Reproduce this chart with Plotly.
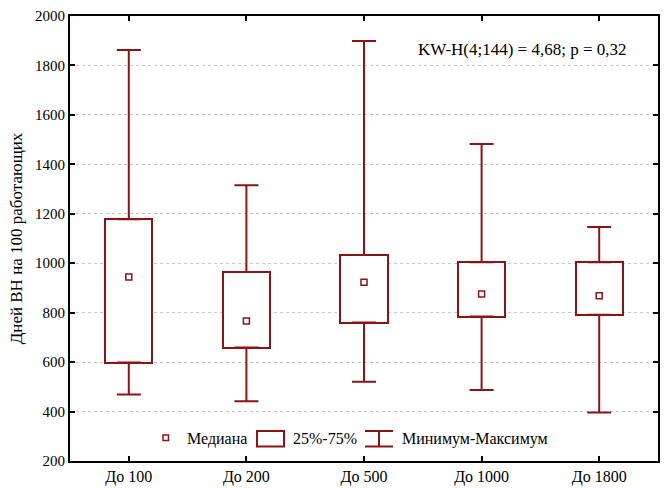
import plotly.graph_objects as go

# Sick-leave days per 100 workers, by enterprise size group
categories = ["До 100", "До 200", "До 500", "До 1000", "До 1800"]
minimum = [469, 442, 521, 487, 396]
q1 = [598, 659, 760, 784, 792]
median = [944, 766, 923, 876, 868]
q3 = [1178, 965, 1033, 1004, 1004]
maximum = [1862, 1315, 1899, 1482, 1147]

y_ticks = list(range(200, 2001, 200))
stat_text = "KW-H(4;144) = 4,68; p = 0,32"
legend_labels = ["Медиана", "25%-75%", "Минимум-Максимум"]

RED = "#8C1414"
FONT = "Liberation Serif, Times New Roman, serif"
xs = list(range(len(categories)))

fig = go.Figure()

# 25%-75% boxes
fig.add_trace(go.Bar(
    x=xs, base=q1, y=[b - a for a, b in zip(q1, q3)], width=0.4,
    marker=dict(color="white", line=dict(color=RED, width=2)),
    showlegend=False, hoverinfo="skip",
))

# upper whiskers: q3 -> max
fig.add_trace(go.Scatter(
    x=xs, y=q3, mode="markers",
    marker=dict(size=1, color="rgba(0,0,0,0)"),
    error_y=dict(type="data", symmetric=False,
                 array=[m - q for q, m in zip(q3, maximum)],
                 arrayminus=[0] * len(xs),
                 color=RED, thickness=2, width=12),
    showlegend=False, hoverinfo="skip",
))

# lower whiskers: min -> q1
fig.add_trace(go.Scatter(
    x=xs, y=q1, mode="markers",
    marker=dict(size=1, color="rgba(0,0,0,0)"),
    error_y=dict(type="data", symmetric=False,
                 array=[0] * len(xs),
                 arrayminus=[q - m for q, m in zip(q1, minimum)],
                 color=RED, thickness=2, width=12),
    showlegend=False, hoverinfo="skip",
))

# medians
fig.add_trace(go.Scatter(
    x=xs, y=median, mode="markers",
    marker=dict(symbol="square-open", size=6, color=RED, line=dict(width=1.5, color=RED)),
    showlegend=False,
))

# hand-drawn legend inside the bottom of the plot area
def px_x(p):
    return (p - 70) / 588


def px_y(p):
    return (461 - p) / 445


shapes = [
    # median glyph
    dict(type="rect", xref="paper", yref="paper",
         x0=px_x(163), x1=px_x(168.5), y0=px_y(440.5), y1=px_y(435),
         line=dict(color=RED, width=1.5), fillcolor="white"),
    # box glyph
    dict(type="rect", xref="paper", yref="paper",
         x0=px_x(257), x1=px_x(284), y0=px_y(446.5), y1=px_y(431),
         line=dict(color=RED, width=2), fillcolor="white"),
    # whisker glyph
    dict(type="line", xref="paper", yref="paper",
         x0=px_x(365), x1=px_x(393), y0=px_y(431), y1=px_y(431),
         line=dict(color=RED, width=2)),
    dict(type="line", xref="paper", yref="paper",
         x0=px_x(365), x1=px_x(393), y0=px_y(446.5), y1=px_y(446.5),
         line=dict(color=RED, width=2)),
    dict(type="line", xref="paper", yref="paper",
         x0=px_x(379), x1=px_x(379), y0=px_y(431), y1=px_y(446.5),
         line=dict(color=RED, width=2)),
]

annotations = [
    dict(text=stat_text, xref="paper", yref="paper", x=px_x(629), y=px_y(49),
         xanchor="right", yanchor="middle", showarrow=False,
         font=dict(family=FONT, size=17, color="black")),
]
for label, left in zip(legend_labels, [185, 291, 400]):
    annotations.append(dict(
        text=label, xref="paper", yref="paper", x=px_x(left), y=px_y(438.5),
        xanchor="left", yanchor="middle", showarrow=False,
        font=dict(family=FONT, size=16, color="black"),
    ))

fig.update_layout(
    width=665, height=488, autosize=False,
    margin=dict(l=70, r=7, t=16, b=27),
    paper_bgcolor="white", plot_bgcolor="white",
    font=dict(family=FONT, size=15, color="black"),
    shapes=shapes, annotations=annotations,
    bargap=0, showlegend=False,
)

fig.update_xaxes(
    range=[-0.5, len(categories) - 0.5],
    tickmode="array", tickvals=xs, ticktext=categories,
    showgrid=False, zeroline=False, automargin=False,
    showline=True, linecolor="black", linewidth=2, mirror="ticks",
    ticks="inside", ticklen=5, tickcolor="black", tickwidth=1.5,
    tickfont=dict(family=FONT, size=16),
)

fig.update_yaxes(
    range=[200, 2000], tickvals=y_ticks,
    showgrid=True, gridcolor="#c8c8c8", gridwidth=1, griddash="dot",
    zeroline=False, automargin=False,
    showline=True, linecolor="black", linewidth=2, mirror="ticks",
    ticks="inside", ticklen=5, tickcolor="black", tickwidth=1.5,
    tickfont=dict(family=FONT, size=15),
    title=dict(text="Дней ВН на 100 работающих", font=dict(family=FONT, size=17), standoff=8),
)

fig.write_html("out.html")
